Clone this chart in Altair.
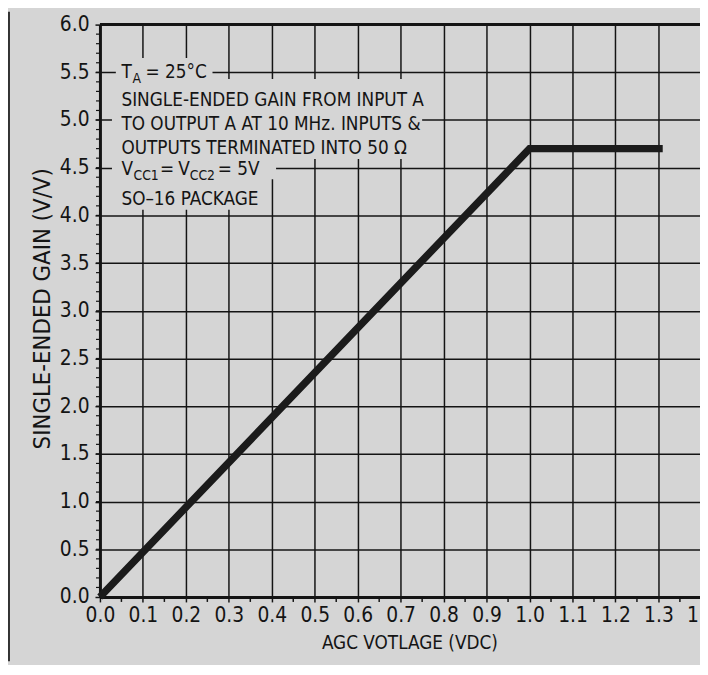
import altair as alt
import pandas as pd

# ---- data ----
agc_volt = [0.0, 1.0, 1.31]
gain = [0.0, 4.7, 4.7]

x_ticks = [0.0, 0.1, 0.2, 0.3, 0.4, 0.5, 0.6, 0.7, 0.8, 0.9, 1.0, 1.1, 1.2, 1.3, 1.4]
y_ticks = [0.0, 0.5, 1.0, 1.5, 2.0, 2.5, 3.0, 3.5, 4.0, 4.5, 5.0, 5.5, 6.0]
x_minor = [round(0.05 + 0.1 * i, 2) for i in range(15)]
y_minor = [round(0.1 * i, 1) for i in range(1, 60)]

note_text = ["T", "= 25°C", "SINGLE-ENDED GAIN FROM INPUT A",
             "TO OUTPUT A AT 10 MHz. INPUTS &", "OUTPUTS TERMINATED INTO 50 Ω",
             "V", "=", "V", "= 5V", "SO–16 PACKAGE"]
note_x = [0.05, 0.106, 0.05, 0.05, 0.05, 0.05, 0.140, 0.182, 0.274, 0.05]
note_y = [5.44, 5.44, 5.15, 4.89, 4.64, 4.42, 4.42, 4.42, 4.42, 4.11]

sub_text = ["A", "CC1", "CC2"]
sub_x = [0.076, 0.078, 0.209]
sub_y = [5.44, 4.42, 4.42]

# areas where the grid is blanked behind the note
mask_x1 = [0.037, 0.028, 0.028, 0.028]
mask_x2 = [0.262, 0.75, 0.41, 0.385]
mask_y1 = [5.37, 4.59, 4.38, 4.06]
mask_y2 = [5.65, 5.43, 4.66, 4.40]

BG = "#d5d5d5"
INK = "#141414"
FONT = "DejaVu Sans Condensed, DejaVu Sans, sans-serif"

W, H = 607, 579
xs = alt.Scale(domain=[0, 1.4], range=[0, 608.4], nice=False, zero=False)
ys = alt.Scale(domain=[0, 6], nice=False, zero=False)

line_df = pd.DataFrame({"v": agc_volt, "g": gain})
mask_df = pd.DataFrame({"x1": mask_x1, "x2": mask_x2, "y1": mask_y1, "y2": mask_y2})
note_df = pd.DataFrame({"t": note_text, "x": note_x, "y": note_y})
sub_df = pd.DataFrame({"t": sub_text, "x": sub_x, "y": sub_y})
xmin_df = pd.DataFrame({"x": x_minor})
ymin_df = pd.DataFrame({"y": y_minor})
top_df = pd.DataFrame({"y": [6.0]})

x_axis = alt.Axis(
    values=x_ticks, format=".1f", grid=True, gridColor=INK, gridWidth=1.5,
    domainColor=INK, domainWidth=3, tickColor=INK, tickWidth=1.5, tickSize=5,
    labelFont=FONT, labelFontSize=21, labelColor=INK, labelPadding=3,
    labelFlush=False, labelOverlap=False,
    title="AGC VOTLAGE (VDC)", titleFont=FONT, titleFontSize=19,
    titleFontWeight="normal", titleColor=INK, titleX=313, titleY=52,
    titleBaseline="alphabetic", titleAlign="center",
)
y_axis = alt.Axis(
    values=y_ticks, format=".1f", grid=True, gridColor=INK, gridWidth=1.5,
    domainColor=INK, domainWidth=3, tickColor=INK, tickWidth=1.5, tickSize=5,
    labelFont=FONT, labelFontSize=21, labelColor=INK, labelPadding=6,
    labelFlush=False, labelOverlap=False,
    title="SINGLE-ENDED GAIN (V/V)", titleFont=FONT, titleFontSize=24,
    titleFontWeight="normal", titleColor=INK, titleAngle=270,
    titleX=-51, titleY=287, titleBaseline="alphabetic", titleAlign="center",
)

X = lambda f: alt.X(f, scale=xs, axis=x_axis)
Y = lambda f: alt.Y(f, scale=ys, axis=y_axis)

masks = alt.Chart(mask_df).mark_rect(color=BG).encode(
    x=X("x1:Q"), x2="x2:Q", y=Y("y1:Q"), y2="y2:Q",
)

top_rule = alt.Chart(top_df).mark_rule(color=INK, strokeWidth=3).encode(
    y=Y("y:Q"), x=alt.value(0), x2=alt.value(640),
)

x_minor_ticks = alt.Chart(xmin_df).mark_rule(color=INK, strokeWidth=1.5).encode(
    x=X("x:Q"), y=alt.value(H), y2=alt.value(H + 5),
)

y_minor_ticks = alt.Chart(ymin_df).mark_rule(color=INK, strokeWidth=1.2).encode(
    y=Y("y:Q"), x=alt.value(-4), x2=alt.value(0),
)

curve = alt.Chart(line_df).mark_line(
    color="#1b1b1b", strokeWidth=7.5, strokeCap="butt", strokeJoin="miter"
).encode(x=X("v:Q"), y=Y("g:Q"))

notes = alt.Chart(note_df).mark_text(
    align="left", baseline="alphabetic", font=FONT, fontSize=19, color=INK
).encode(x=X("x:Q"), y=Y("y:Q"), text="t:N")

subs = alt.Chart(sub_df).mark_text(
    align="left", baseline="alphabetic", font=FONT, fontSize=14, color=INK, dy=5
).encode(x=X("x:Q"), y=Y("y:Q"), text="t:N")

frame = alt.Chart(top_df).mark_rule(color="#333333", strokeWidth=2).encode(
    x=alt.value(-92), y=alt.value(-13), y2=alt.value(644),
)

chart = alt.layer(
    masks, top_rule, x_minor_ticks, y_minor_ticks, curve, notes, subs, frame
).properties(
    width=W, height=H, background=BG,
    padding={"left": 93, "top": 13, "right": 0, "bottom": 65},
    autosize=alt.AutoSizeParams(type="none"),
).configure_view(strokeWidth=0)

chart.save("out.html", embed_options={"renderer": "svg", "actions": False})
